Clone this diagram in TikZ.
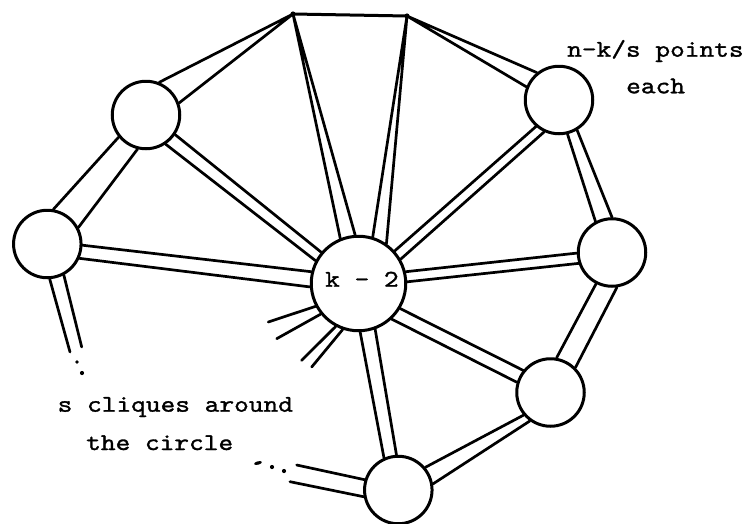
\documentclass[tikz,border=0pt]{standalone}
\usepackage{fontspec}
% typewriter face, widened to a Courier-like pitch and slightly heavier
\newfontfamily\typewriter{lmmono10-regular.otf}[FakeStretch=1.167, FakeBold=1.3]
\pgfdeclarelayer{paper}
\pgfdeclarelayer{wires}
\pgfsetlayers{paper,wires,main}
\begin{document}
\begin{tikzpicture}[x=1pt,y=-1pt,
  clique/.style={circle, draw, line width=3pt, fill=white, minimum size=67.5pt, inner sep=0pt},
  hub/.style={clique, minimum size=94.5pt},
  strand/.style={line width=2.7pt, line cap=round},
  tw/.style={font=\typewriter\fontsize{24}{29}\selectfont, inner sep=0pt, anchor=base west},
  speck/.style={fill=black}]
\useasboundingbox (0,0) rectangle (748,523);
\begin{pgfonlayer}{paper}
  \fill[white] (0,0) rectangle (748,523);
\end{pgfonlayer}

% central clique and the s cliques around it
\node[hub]    (hub) at (358.5,283.5) {};
\node[clique] (ul)  at (146,115) {};
\node[clique] (lf)  at (47.3,244) {};
\node[clique] (ur)  at (559,100) {};
\node[clique] (rt)  at (612,252.5) {};
\node[clique] (lr)  at (550.5,392.5) {};
\node[clique] (bt)  at (398.3,490) {};

% the two apex points
\coordinate (apexL) at (293,14);
\coordinate (apexR) at (407,16);

% free ends of the open bands
\coordinate (lfa) at (70,352);
\coordinate (lfb) at (81.7,347);
\coordinate (bta) at (296.7,465);
\coordinate (btb) at (290,481.7);
\coordinate (st1) at (268.3,322);
\coordinate (st2) at (276.7,338.7);
\coordinate (st3) at (301.7,360.3);
\coordinate (st4) at (311.7,367);

\begin{pgfonlayer}{wires}
  % apex edges
  \draw[strand, line width=3pt] (apexL) -- (apexR);
  \draw[strand] (apexL) -- (ul.68)  (apexL) -- (ul.20);
  \draw[strand] (apexL) -- (hub.112) (apexL) -- (hub.94);
  \draw[strand] (apexR) -- (hub.73)  (apexR) -- (hub.55);
  \draw[strand] (apexR) -- (ur.129)  (apexR) -- (ur.158);
  % bands between neighbouring cliques
  \draw[strand] (ul.219) -- (lf.80)   (ul.256) -- (lf.28);
  \draw[strand] (ur.-76) -- (rt.118)  (ur.-59) -- (rt.90);
  \draw[strand] (rt.-117) -- (lr.80)  (rt.-82) -- (lr.45);
  \draw[strand] (lr.220) -- (bt.40)   (lr.234) -- (bt.10);
  % bands to the central clique
  \draw[strand] (ul.-56) -- (hub.152) (ul.-34) -- (hub.140);
  \draw[strand] (lf.-2)  -- (hub.166) (lf.-24) -- (hub.184);
  \draw[strand] (ur.229) -- (hub.42)  (ur.245) -- (hub.30);
  \draw[strand] (rt.181) -- (hub.14)  (rt.198) -- (hub.2);
  \draw[strand] (hub.-31) -- (lr.141) (hub.-47) -- (lr.163);
  \draw[strand] (hub.-88) -- (bt.114) (hub.-70) -- (bt.93);
  % open bands
  \draw[strand] (lf.-86) -- (lfa) (lf.-62) -- (lfb);
  \draw[strand] (bt.163) -- (bta) (bt.191) -- (btb);
  \draw[strand] (hub.208) -- (st1) (hub.219) -- (st2);
  \draw[strand] (hub.242) -- (st3) (hub.251) -- (st4);
\end{pgfonlayer}

% ellipsis marks
\fill[speck] (apexL) circle (2.6) (apexR) circle (2.6);
\fill[speck] (77,362) circle (1.9) (82,373) circle (2.1);
\fill[speck, rotate around={15:(258,463)}] (258,463) ellipse (4 and 1.7);
\fill[speck] (272,467) circle (2.1) (284,471) circle (2.1);

% labels
\node[tw] (hubtxt) at (325,286.7) {k - 2};
\node[tw] (ptsA) at (567,56.7) {n-k/s points};
\node[tw] (ptsB) at (626,93.3) {each};
\node[tw] (clqA) at (57.5,411.7) {s cliques around};
\node[tw] (clqB) at (86,450) {the circle};
\end{tikzpicture}
\end{document}
